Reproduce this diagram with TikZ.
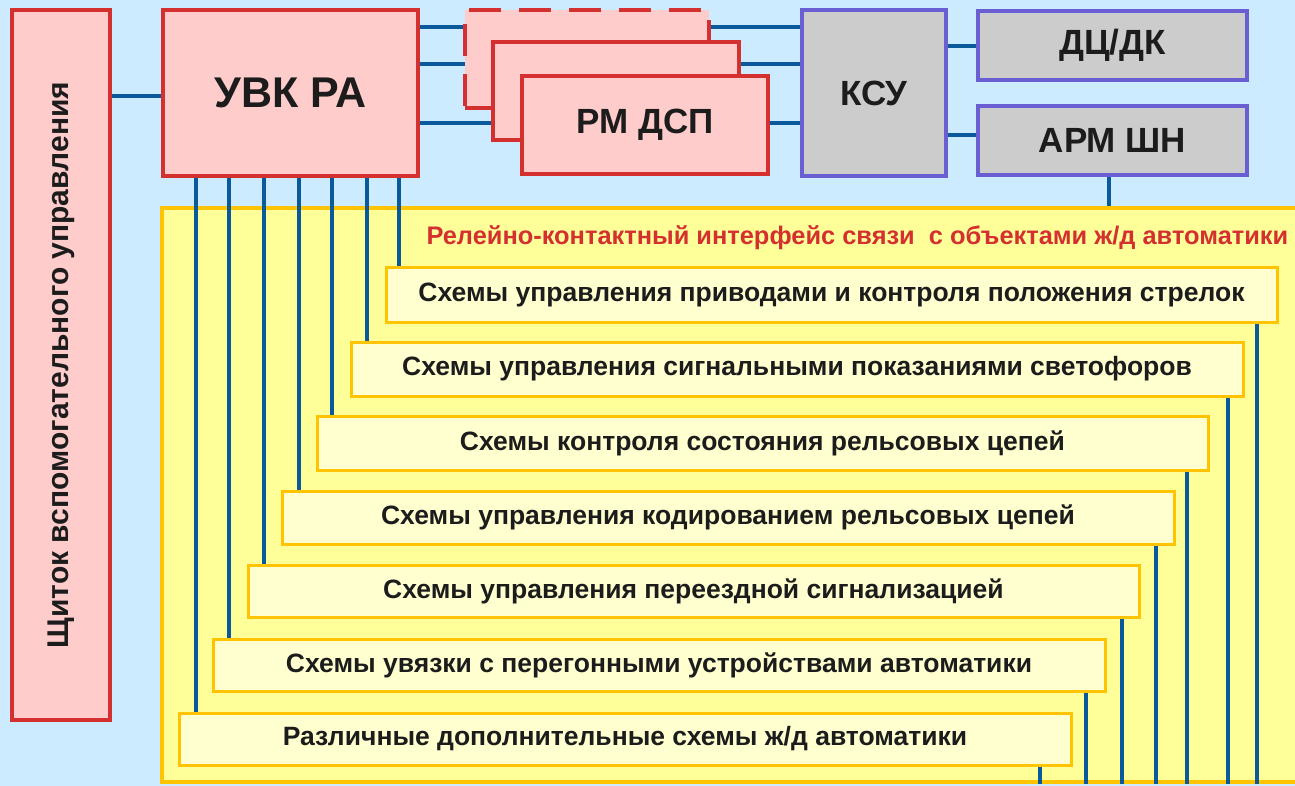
\documentclass[tikz,border=0pt]{standalone}
\usepackage{fontspec}
\setmainfont{Liberation Sans}
\definecolor{bg}{RGB}{204,235,255}
\definecolor{redline}{RGB}{212,48,48}
\definecolor{pinkfill}{RGB}{255,204,204}
\definecolor{wire}{RGB}{10,90,155}
\definecolor{violetline}{RGB}{105,95,210}
\definecolor{grayfill}{RGB}{204,204,204}
\definecolor{amber}{RGB}{255,195,0}
\definecolor{yelfill}{RGB}{255,255,153}
\definecolor{stripfill}{RGB}{255,255,208}
\definecolor{ink}{RGB}{28,28,28}
\pgfdeclarelayer{back}
\pgfdeclarelayer{wires}
\pgfsetlayers{back,wires,main}
\begin{document}
\begin{tikzpicture}[x=1pt,y=-1pt,
  box/.style 2 args={minimum width=#1, minimum height=#2, inner sep=0pt},
  redbox/.style={draw=redline, line width=4.5pt, fill=pinkfill, text=ink},
  graybox/.style={draw=violetline, line width=4pt, fill=grayfill, text=ink},
  strip/.style={draw=amber, line width=3pt, fill=stripfill, text=ink,
    font=\bfseries\fontsize{26.5}{30}\selectfont},
  link/.style={draw=wire, line width=4pt},
  bigfont/.style={font=\bfseries\fontsize{35}{40}\selectfont}]

\begin{pgfonlayer}{back}
  \fill[bg] (0,0) rectangle (1295,786);
\end{pgfonlayer}
\useasboundingbox (0,0) rectangle (1295,786);

% interface area
\begin{pgfonlayer}{back}
  \node[draw=amber, line width=4pt, fill=yelfill, box={1168pt}{574pt}] (iface) at (746,495) {};
\end{pgfonlayer}
\node[anchor=west, text=redline, font=\bfseries\fontsize{25.4}{29}\selectfont]
  (title) at (423,238) {Релейно-контактный интерфейс связи\ \ с объектами ж/д автоматики};

% control units
\node[redbox, box={98pt}{710pt}] (shield) at (61,365) {};
\node[rotate=90, text=ink, font=\bfseries\fontsize{30}{34}\selectfont]
  at (shield.center) {Щиток вспомогательного управления};
\node[redbox, box={255pt}{166pt}, font=\bfseries\fontsize{43}{48}\selectfont] (uvk) at (290.5,93) {УВК РА};
\node[redbox, dash pattern=on 32pt off 18pt, box={244pt}{98pt}] (rm3) at (587,59) {};
\node[redbox, box={246pt}{98pt}] (rm2) at (616,91) {};
\node[redbox, bigfont, box={246pt}{98pt}] (rm1) at (645,125) {РМ ДСП};
\node[graybox, bigfont, box={144pt}{166pt}] (ksu) at (874,93) {КСУ};
\node[graybox, bigfont, box={269pt}{69pt}] (dc) at (1112.5,45.5) {ДЦ/ДК};
\node[graybox, bigfont, box={269pt}{69pt}] (arm) at (1112.5,140.5) {АРМ ШН};

% relay-contact circuits
\node[strip, box={891pt}{54pt}] (s1) at (831.5,295) {Схемы управления приводами и контроля положения стрелок};
\node[strip, box={892pt}{54pt}] (s2) at (797,369) {Схемы управления сигнальными показаниями светофоров};
\node[strip, box={891pt}{54pt}] (s3) at (762.5,443) {Схемы контроля состояния рельсовых цепей};
\node[strip, box={892pt}{53pt}] (s4) at (728,517.5) {Схемы управления кодированием рельсовых цепей};
\node[strip, box={891pt}{52pt}] (s5) at (693.5,591) {Схемы управления переездной сигнализацией};
\node[strip, box={892pt}{52pt}] (s6) at (659,665) {Схемы увязки с перегонными устройствами автоматики};
\node[strip, box={892pt}{52pt}] (s7) at (625,739) {Различные дополнительные схемы ж/д автоматики};

% wiring
\coordinate (h1) at (0,96);
\coordinate (h2) at (0,27);
\coordinate (h3) at (0,64);
\coordinate (h4) at (0,123);
\coordinate (h5) at (0,46);
\coordinate (h6) at (0,135);
\coordinate (v0) at (1109,0);
\foreach \n/\xt/\xb in {1/399/1257, 2/367/1228, 3/332/1187, 4/299/1156, 5/264/1122, 6/229/1086, 7/196/1040}{
  \coordinate (t\n) at (\xt,0);
  \coordinate (b\n) at (\xb,0);
}
\begin{pgfonlayer}{wires}
  \draw[link] (shield.east |- h1) -- (uvk.west |- h1);
  \draw[link] (uvk.east |- h2) -- (rm3.west |- h2);
  \draw[link] (uvk.east |- h3) -- (rm2.west |- h3);
  \draw[link] (uvk.east |- h4) -- (rm1.west |- h4);
  \draw[link] (rm3.east |- h2) -- (ksu.west |- h2);
  \draw[link] (rm2.east |- h3) -- (ksu.west |- h3);
  \draw[link] (rm1.east |- h4) -- (ksu.west |- h4);
  \draw[link] (ksu.east |- h5) -- (dc.west |- h5);
  \draw[link] (ksu.east |- h6) -- (arm.west |- h6);
  \draw[link] (arm.south -| v0) -- (iface.north -| v0);
  \foreach \n in {1,...,7}{
    \draw[link] (uvk.south -| t\n) -- (s\n.north -| t\n);
    \draw[link] (s\n.south -| b\n) -- (iface.south -| b\n);
  }
\end{pgfonlayer}
\end{tikzpicture}
\end{document}
